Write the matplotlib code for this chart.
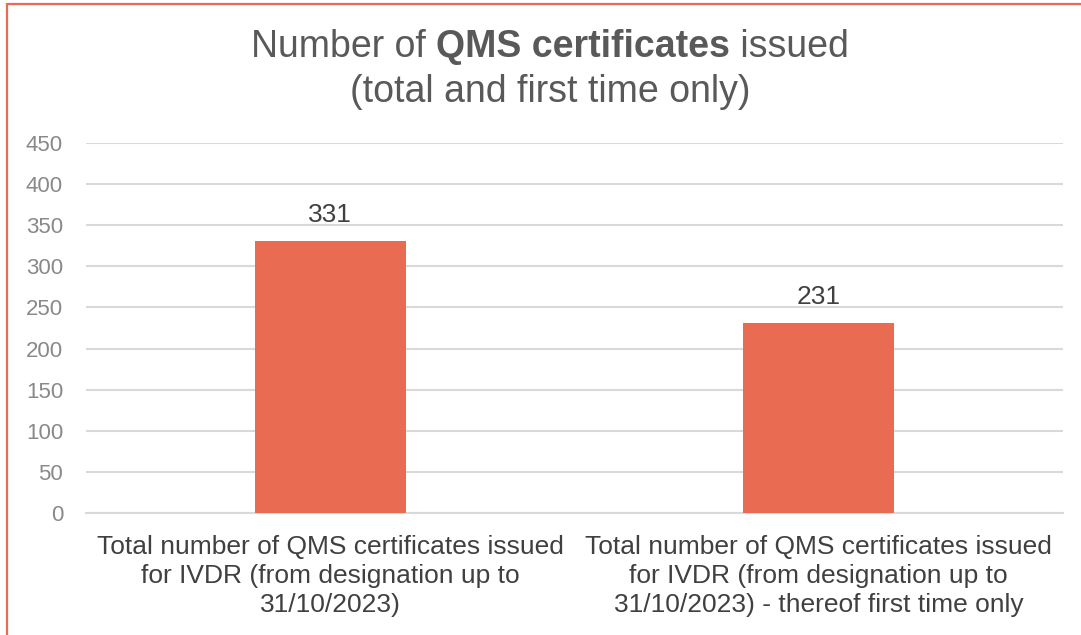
import matplotlib
matplotlib.use("Agg")
import matplotlib.pyplot as plt
from matplotlib.patches import Rectangle

categories = [
    "Total number of QMS certificates issued\nfor IVDR (from designation up to\n31/10/2023)",
    "Total number of QMS certificates issued\nfor IVDR (from designation up to\n31/10/2023) - thereof first time only",
]
counts = [331, 231]
y_ticks = [0, 50, 100, 150, 200, 250, 300, 350, 400, 450]

BAR_COLOR = "#E86B52"
TEXT_DARK = "#404040"
TEXT_TICK = "#898989"
GRID = "#D9D9D9"
FONT = "Liberation Sans"

plt.rcParams["font.family"] = [FONT, "DejaVu Sans"]

W, H = 1081, 635
fig = plt.figure(figsize=(W / 100, H / 100), dpi=100)

# outer chart frame (runs off the right and bottom edge)
fig.patches.append(Rectangle((7 / W, -0.1), 1.2, 1 - 4 / H + 0.1,
                             transform=fig.transFigure, fill=False,
                             edgecolor=BAR_COLOR, linewidth=1.6))

ax = fig.add_axes([86 / W, 1 - 513 / H, (1063 - 86) / W, (513 - 143) / H])
x = range(len(categories))
bars = ax.bar(x, counts, width=0.31, color=BAR_COLOR, zorder=3)
ax.set_xlim(-0.5, len(categories) - 0.5)
ax.set_ylim(0, 450)
ax.set_yticks(y_ticks)
ax.yaxis.grid(True, color=GRID, linewidth=1.5, zorder=0)
ax.set_axisbelow(True)
for side in ["top", "right", "left"]:
    ax.spines[side].set_visible(False)
ax.spines["bottom"].set_color(GRID)
ax.spines["bottom"].set_linewidth(1.5)
ax.tick_params(axis="y", length=0, pad=16.5, labelsize=16, labelcolor=TEXT_TICK)
ax.tick_params(axis="x", length=0, pad=16)
ax.set_xticks(list(x))
ax.set_xticklabels(categories, fontsize=19, color=TEXT_DARK, linespacing=1.27)

for b, v in zip(bars, counts):
    ax.annotate(str(v), (b.get_x() + b.get_width() / 2, v), xytext=(0, 10),
                textcoords="offset points", ha="center", va="bottom",
                fontsize=19, color=TEXT_DARK)

# title with a bold middle section
renderer = fig.canvas.get_renderer()
parts = [("Number of ", "normal"), ("QMS certificates", "bold"), (" issued", "normal")]
texts = []
for s, w in parts:
    t = fig.text(0, 1 - 47 / H, s, fontsize=27, fontweight=w, color="#595959",
                 va="center", ha="left")
    texts.append(t)
widths = [t.get_window_extent(renderer).width for t in texts]
x0 = 550 - sum(widths) / 2
for t, wd in zip(texts, widths):
    t.set_x(x0 / W)
    x0 += wd
fig.text(550 / W, 1 - 92 / H, "(total and first time only)", fontsize=27,
         color="#595959", ha="center", va="center")

fig.savefig("out.png", dpi=100)
